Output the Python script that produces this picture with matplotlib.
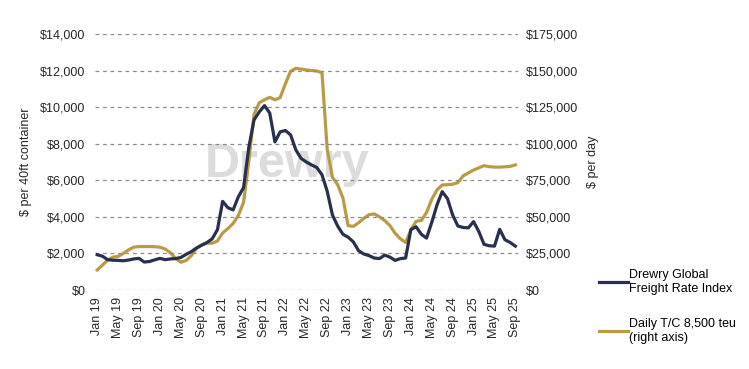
import numpy as np
import matplotlib
matplotlib.use("Agg")
import matplotlib.pyplot as plt

plt.rcParams['font.family'] = ['Liberation Sans', 'DejaVu Sans']

# monthly values, Jan 19 .. Sep 25
months = ['Jan', 'Feb', 'Mar', 'Apr', 'May', 'Jun', 'Jul', 'Aug', 'Sep', 'Oct', 'Nov', 'Dec']
years = ['19', '20', '21', '22', '23', '24', '25']

# Drewry Global Freight Rate Index ($ per 40ft container, left axis)
fri = [1930, 1850, 1660, 1630, 1620, 1600, 1640, 1700, 1730, 1530, 1560, 1650,
       1730, 1660, 1700, 1720, 1780, 1950, 2100, 2300, 2450, 2600, 2800, 3300,
       4850, 4500, 4380, 5100, 5600, 7800, 9300, 9740, 10080, 9680, 8100, 8650,
       8720, 8480, 7660, 7200, 7000, 6840, 6700, 6300, 5400, 4100, 3500, 3050,
       2890, 2630, 2150, 1970, 1880, 1750, 1720, 1910, 1800, 1620, 1720, 1750,
       3300, 3460, 3050, 2840, 3700, 4650, 5380, 5000, 4100, 3500, 3420, 3400,
       3740, 3200, 2500, 2420, 2400, 3320, 2750, 2600, 2400]

# Daily T/C 8,500 teu ($ per day, right axis)
tc = [13700, 17000, 20500, 22500, 23000, 25000, 27500, 29300, 29700, 29700, 29700, 29600,
      29300, 28000, 25500, 21500, 19000, 20200, 23500, 28500, 31000, 32000, 32000, 33500,
      39000, 42000, 45500, 51000, 60000, 88000, 120000, 128000, 130000, 131700, 130000, 131500,
      141000, 149500, 151500, 151000, 150400, 150000, 149700, 148500, 96000, 77000, 72000, 63000,
      44000, 43500, 46000, 49000, 51500, 52000, 50000, 47500, 44000, 38800, 35000, 32500,
      41000, 47000, 47500, 53000, 62000, 68400, 71800, 72000, 72300, 73400, 78000, 80000,
      82000, 83500, 85000, 84300, 84000, 84000, 84200, 84500, 85500]

labels = []
for y in years:
    for m in months:
        labels.append(m + ' ' + y)
labels = labels[:len(fri)]
x = np.arange(len(fri))

navy = '#28304d'
gold = '#b99b45'

fig = plt.figure(figsize=(7.49, 3.69), dpi=100)
ax1 = fig.add_axes([0.127, 0.214, 0.5646, 0.694])
ax2 = ax1.twinx()

ax1.set_ylim(0, 14000)
ax2.set_ylim(0, 175000)
ax1.set_xlim(-0.4, 80.5)

# watermark (behind both lines)
ax2.text(0.455, 0.49, 'Drewry', transform=ax2.transAxes, fontsize=35, fontweight='bold',
         color='#dcdcdc', ha='center', va='center', zorder=0)

ax1.set_yticks(np.arange(0, 14001, 2000))
ax1.set_yticklabels(['${:,.0f}'.format(v) for v in np.arange(0, 14001, 2000)])
ax2.set_yticks(np.arange(0, 175001, 25000))
ax2.set_yticklabels(['${:,.0f}'.format(v) for v in np.arange(0, 175001, 25000)])

ax1.yaxis.grid(True, linestyle=(0, (3, 3)), color='#8c8c8c', linewidth=0.9)
ax1.set_axisbelow(True)

ax1.set_xticks(x[::4])
ax1.set_xticklabels(labels[::4], rotation=90)

for a in (ax1, ax2):
    for s in a.spines.values():
        s.set_visible(False)
    a.tick_params(length=0, labelsize=9, colors='#262626')
ax1.tick_params(axis='y', pad=7)
ax2.tick_params(axis='y', pad=6)
ax1.tick_params(axis='x', pad=5)

l2, = ax2.plot(x, tc, color=gold, lw=2.3, zorder=2)
l1, = ax1.plot(x, fri, color=navy, lw=2.3, zorder=3)
ax1.set_zorder(ax2.get_zorder() + 1)
ax1.patch.set_visible(False)

ax1.set_ylabel('$ per 40ft container', fontsize=9, color='#262626', labelpad=6)
ax2.set_ylabel('$ per day', fontsize=9, color='#262626', labelpad=6)

fig.legend([l1, l2], ['Drewry Global\nFreight Rate Index', 'Daily T/C 8,500 teu\n(right axis)'],
           loc='upper left', bbox_to_anchor=(0.793, 0.285), frameon=False, fontsize=9,
           handlelength=2.3, handletextpad=0.1, labelspacing=1.9, borderaxespad=0)

fig.savefig('out.png', dpi=100)
